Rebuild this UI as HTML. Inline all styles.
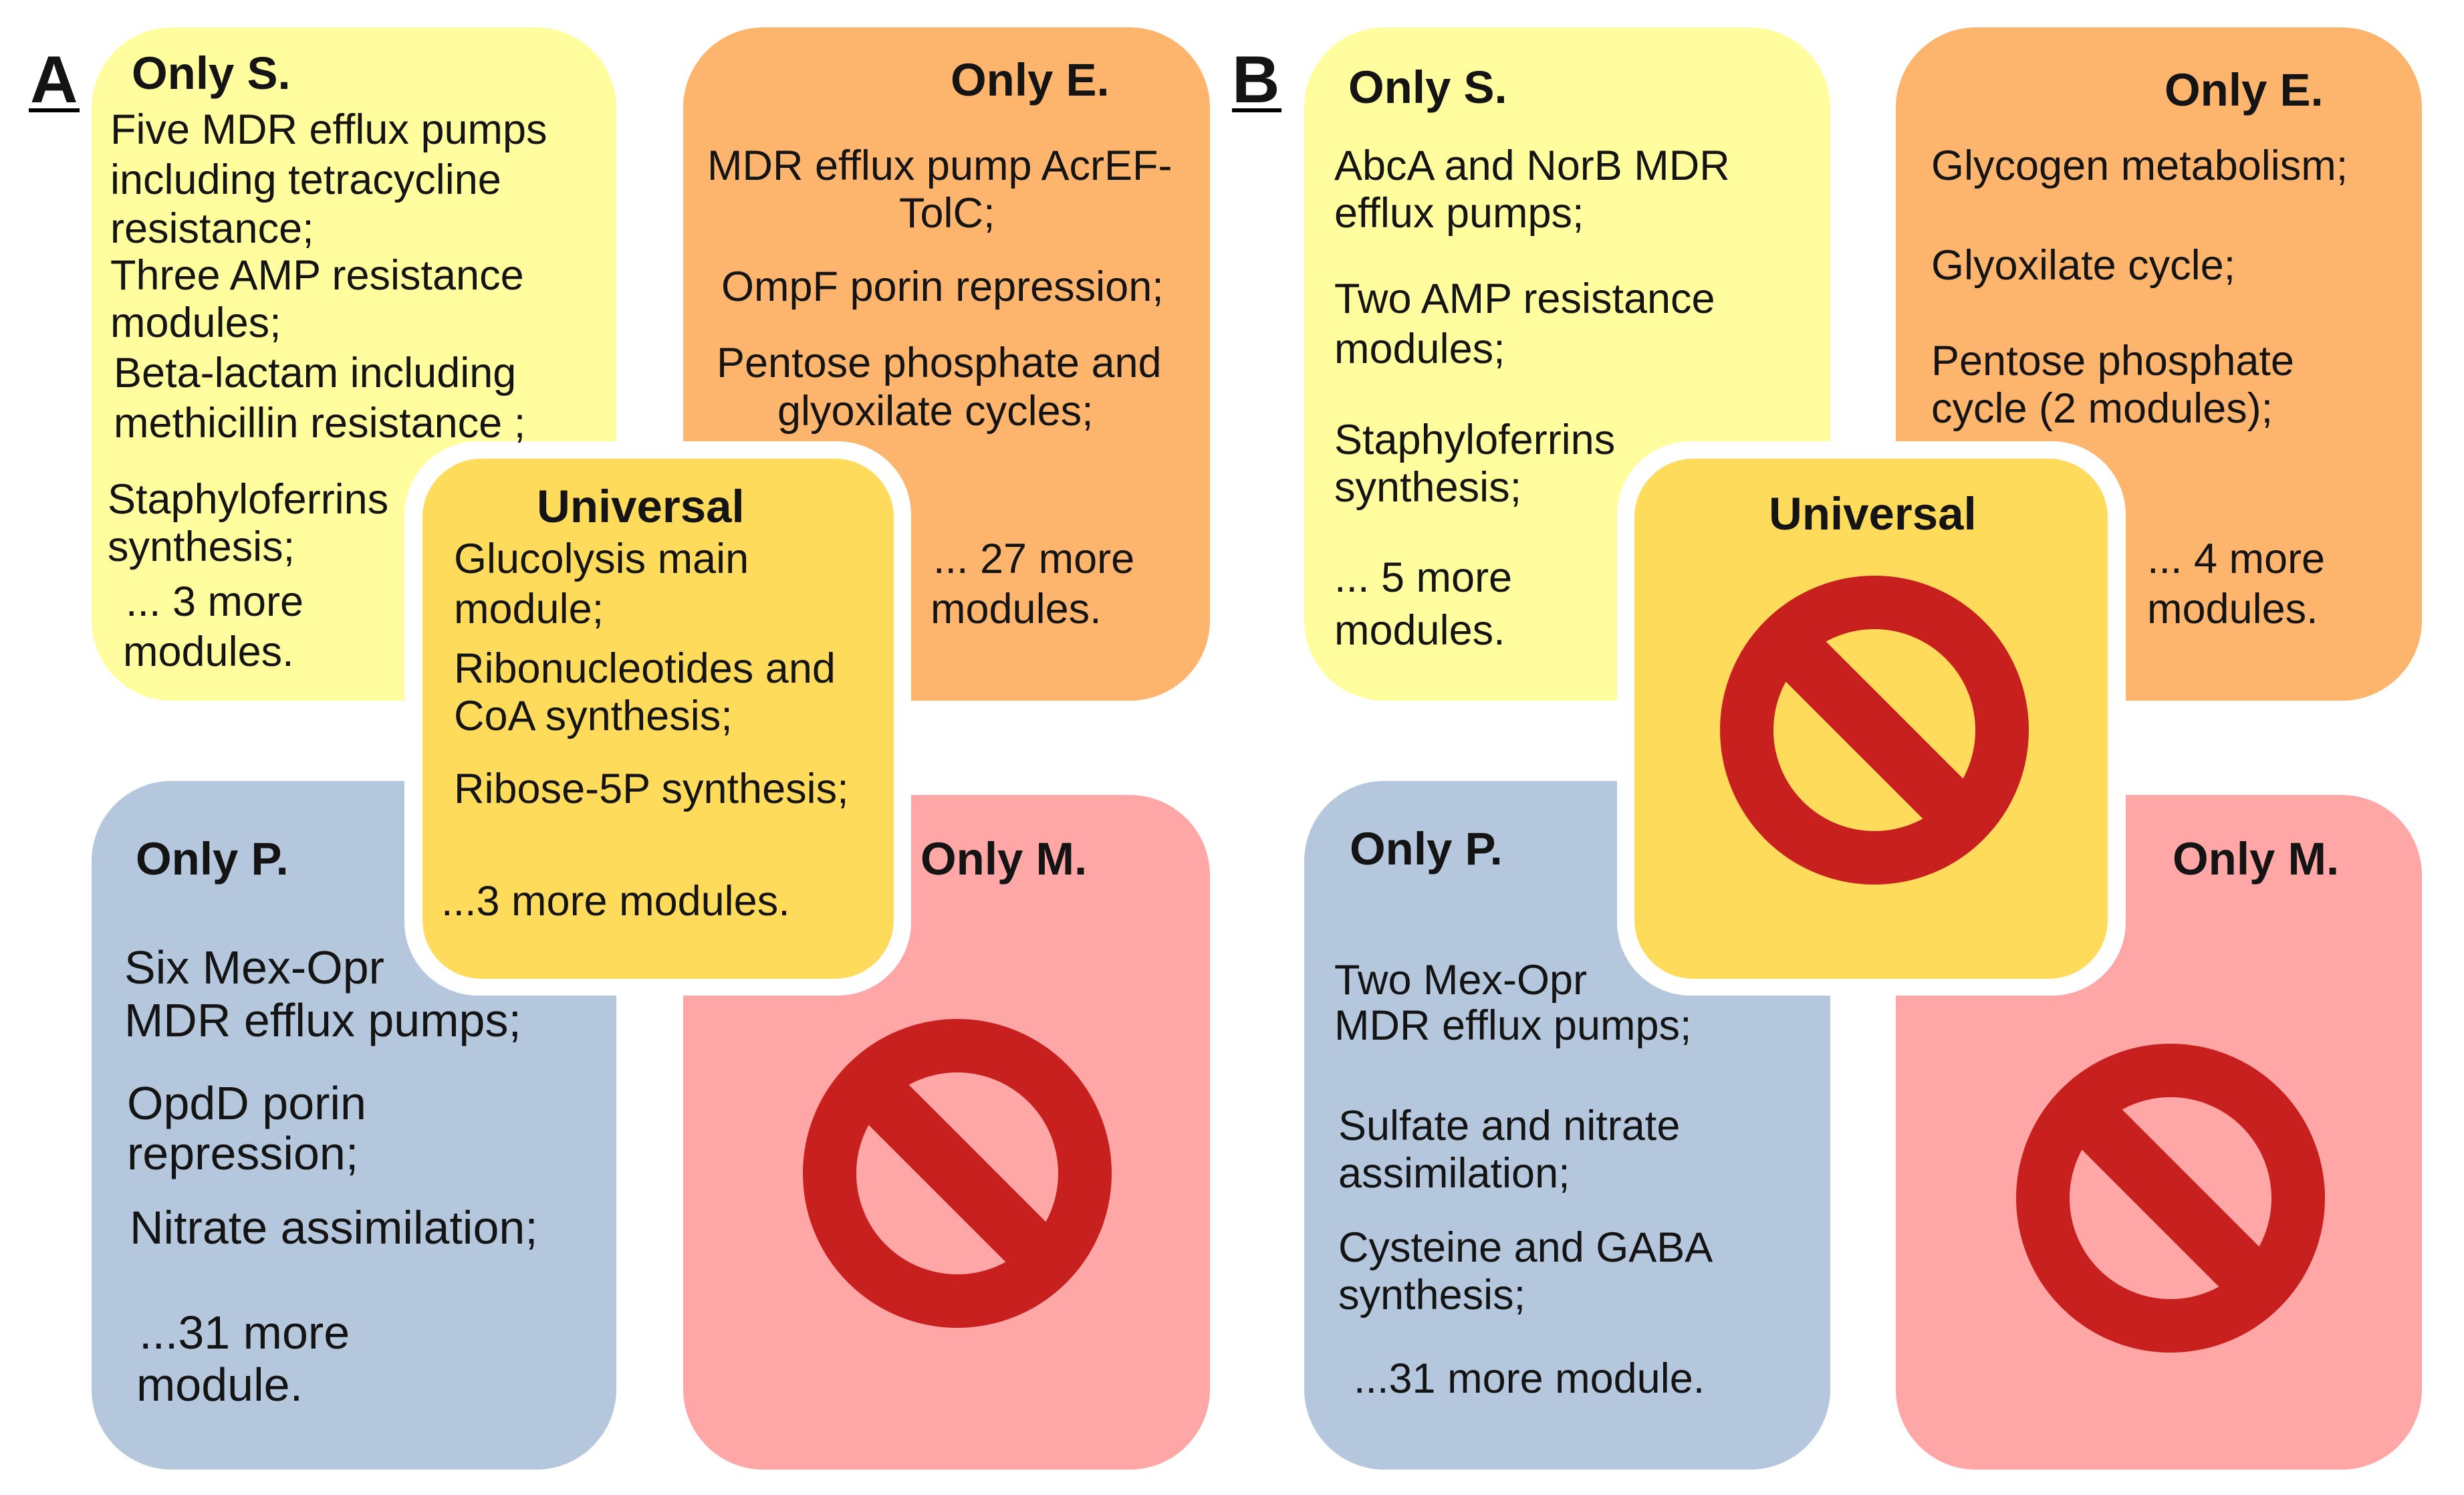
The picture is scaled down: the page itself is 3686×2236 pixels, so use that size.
<!DOCTYPE html>
<html><head><meta charset="utf-8">
<style>
html,body{margin:0;padding:0;background:#fff;}
#c{position:relative;width:3686px;height:2236px;overflow:hidden;background:#fff;font-family:"Liberation Sans",sans-serif;color:#141414;}
svg{position:absolute;left:0;top:0;}
.t{position:absolute;white-space:nowrap;font-size:63px;line-height:63px;}
.p{font-size:70px;line-height:70px;}
.b{font-weight:bold;font-size:69px;line-height:69px;margin-top:-2px;}
.L{font-weight:bold;font-size:99px;line-height:99px;}
.u{position:absolute;height:6px;background:#000;}
</style></head><body><div id="c">
<svg width="3686" height="2236" viewBox="0 0 3686 2236">
<defs>
<g id="no"><circle r="191" fill="none" stroke="#C8201E" stroke-width="80"/><line x1="-140" y1="-140" x2="140" y2="140" stroke="#C8201E" stroke-width="85"/></g>
</defs>
<rect x="137" y="41" width="785" height="1007" rx="120" fill="#FFFD9E"/>
<rect x="1022" y="41" width="788" height="1007" rx="120" fill="#FDB46C"/>
<rect x="137" y="1168" width="785" height="1030" rx="120" fill="#B4C7DC"/>
<rect x="1022" y="1189" width="788" height="1009" rx="120" fill="#FFA6A6"/>
<use href="#no" x="1432" y="1755"/>
<rect x="605" y="660" width="758" height="829" rx="110" fill="#fff"/>
<rect x="632" y="686" width="705" height="778" rx="88" fill="#FFDB5C"/>
<rect x="1951" y="41" width="787" height="1007" rx="120" fill="#FFFD9E"/>
<rect x="2836" y="41" width="787" height="1007" rx="120" fill="#FDB46C"/>
<rect x="1951" y="1168" width="787" height="1030" rx="120" fill="#B4C7DC"/>
<rect x="2836" y="1189" width="787" height="1009" rx="120" fill="#FFA6A6"/>
<use href="#no" x="3247" y="1792"/>
<rect x="2419" y="660" width="761" height="829" rx="110" fill="#fff"/>
<rect x="2445" y="686" width="708" height="778" rx="88" fill="#FFDB5C"/>
<use href="#no" x="2804" y="1092"/>
</svg>

<div class="t L" style="left:45px;top:69px">A</div>
<div class="u" style="left:43px;top:162px;width:76px"></div>
<div class="t L" style="left:1843px;top:69px">B</div>
<div class="u" style="left:1843px;top:162px;width:74px"></div>

<div class="t b" style="left:197px;top:77px">Only S.</div>
<div class="t" style="left:165px;top:163px">Five MDR efflux pumps</div>
<div class="t" style="left:165px;top:238px">including tetracycline</div>
<div class="t" style="left:165px;top:311px">resistance;</div>
<div class="t" style="left:165px;top:381px">Three AMP resistance</div>
<div class="t" style="left:165px;top:452px">modules;</div>
<div class="t" style="left:170px;top:527px">Beta-lactam including</div>
<div class="t" style="left:170px;top:602px">methicillin resistance ;</div>
<div class="t" style="left:161px;top:716px">Staphyloferrins</div>
<div class="t" style="left:161px;top:787px">synthesis;</div>
<div class="t" style="left:188px;top:869px">... 3 more</div>
<div class="t" style="left:184px;top:944px">modules.</div>

<div class="t b" style="left:1422px;top:87px">Only E.</div>
<div class="t" style="left:1058px;top:217px">MDR efflux pump AcrEF-</div>
<div class="t" style="left:1345px;top:288px">TolC;</div>
<div class="t" style="left:1079px;top:398px">OmpF porin repression;</div>
<div class="t" style="left:1072px;top:512px">Pentose phosphate and</div>
<div class="t" style="left:1163px;top:584px">glyoxilate cycles;</div>
<div class="t" style="left:1396px;top:805px">... 27 more</div>
<div class="t" style="left:1392px;top:880px">modules.</div>

<div class="t b" style="left:803px;top:725px">Universal</div>
<div class="t" style="left:679px;top:805px">Glucolysis main</div>
<div class="t" style="left:679px;top:880px">module;</div>
<div class="t" style="left:679px;top:969px">Ribonucleotides and</div>
<div class="t" style="left:679px;top:1040px">CoA synthesis;</div>
<div class="t" style="left:679px;top:1149px">Ribose-5P synthesis;</div>
<div class="t" style="left:660px;top:1317px">...3 more modules.</div>

<div class="t b" style="left:203px;top:1252px">Only P.</div>
<div class="t p" style="left:186px;top:1412px">Six Mex-Opr</div>
<div class="t p" style="left:186px;top:1491px">MDR efflux pumps;</div>
<div class="t p" style="left:190px;top:1615px">OpdD porin</div>
<div class="t p" style="left:190px;top:1690px">repression;</div>
<div class="t p" style="left:194px;top:1801px">Nitrate assimilation;</div>
<div class="t p" style="left:208px;top:1958px">...31 more</div>
<div class="t p" style="left:204px;top:2036px">module.</div>

<div class="t b" style="left:1377px;top:1252px">Only M.</div>

<div class="t b" style="left:2017px;top:98px">Only S.</div>
<div class="t" style="left:1996px;top:217px">AbcA and NorB MDR</div>
<div class="t" style="left:1996px;top:288px">efflux pumps;</div>
<div class="t" style="left:1996px;top:416px">Two AMP resistance</div>
<div class="t" style="left:1996px;top:491px">modules;</div>
<div class="t" style="left:1996px;top:627px">Staphyloferrins</div>
<div class="t" style="left:1996px;top:698px">synthesis;</div>
<div class="t" style="left:1996px;top:833px">... 5 more</div>
<div class="t" style="left:1996px;top:912px">modules.</div>

<div class="t b" style="left:3238px;top:102px">Only E.</div>
<div class="t" style="left:2889px;top:217px">Glycogen metabolism;</div>
<div class="t" style="left:2889px;top:366px">Glyoxilate cycle;</div>
<div class="t" style="left:2889px;top:509px">Pentose phosphate</div>
<div class="t" style="left:2889px;top:580px">cycle (2 modules);</div>
<div class="t" style="left:3212px;top:805px">... 4 more</div>
<div class="t" style="left:3212px;top:880px">modules.</div>

<div class="t b" style="left:2646px;top:736px">Universal</div>

<div class="t b" style="left:2019px;top:1237px">Only P.</div>
<div class="t" style="left:1996px;top:1435px">Two Mex-Opr</div>
<div class="t" style="left:1996px;top:1503px">MDR efflux pumps;</div>
<div class="t" style="left:2002px;top:1653px">Sulfate and nitrate</div>
<div class="t" style="left:2002px;top:1724px">assimilation;</div>
<div class="t" style="left:2002px;top:1835px">Cysteine and GABA</div>
<div class="t" style="left:2002px;top:1906px">synthesis;</div>
<div class="t" style="left:2025px;top:2031px">...31 more module.</div>

<div class="t b" style="left:3250px;top:1252px">Only M.</div>
</div></body></html>
